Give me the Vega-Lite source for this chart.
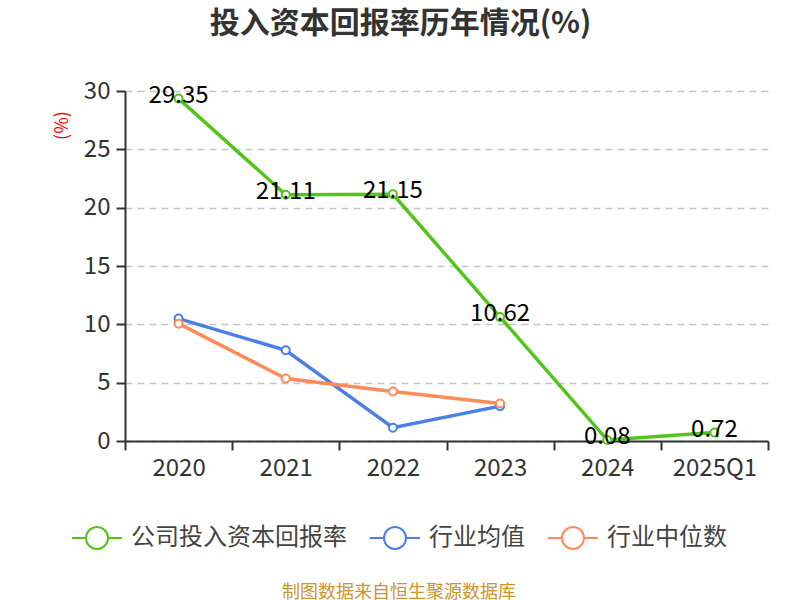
{
  "$schema": "https://vega.github.io/schema/vega-lite/v6.json",
  "autosize": {"type": "none"},
  "width": 643,
  "height": 350,
  "padding": {"left": 125, "top": 91, "right": 32, "bottom": 159},
  "background": "white",
  "title": {
    "text": "投入资本回报率历年情况(%)",
    "font": "Noto Sans CJK SC",
    "fontSize": 30,
    "fontWeight": "bold",
    "color": "#333333",
    "anchor": "middle",
    "dx": -46,
    "offset": 40
  },
  "config": {
    "view": {"stroke": null},
    "font": "Noto Sans CJK SC"
  },
  "data": {
    "values": [
      {"period": "2020", "series": "公司投入资本回报率", "value": 29.35},
      {"period": "2021", "series": "公司投入资本回报率", "value": 21.11},
      {"period": "2022", "series": "公司投入资本回报率", "value": 21.15},
      {"period": "2023", "series": "公司投入资本回报率", "value": 10.62},
      {"period": "2024", "series": "公司投入资本回报率", "value": 0.08},
      {"period": "2025Q1", "series": "公司投入资本回报率", "value": 0.72},
      {"period": "2020", "series": "行业均值", "value": 10.49},
      {"period": "2021", "series": "行业均值", "value": 7.78},
      {"period": "2022", "series": "行业均值", "value": 1.14},
      {"period": "2023", "series": "行业均值", "value": 2.99},
      {"period": "2020", "series": "行业中位数", "value": 10.06},
      {"period": "2021", "series": "行业中位数", "value": 5.36},
      {"period": "2022", "series": "行业中位数", "value": 4.25},
      {"period": "2023", "series": "行业中位数", "value": 3.22}
    ]
  },
  "encoding": {
    "x": {
      "field": "period",
      "type": "ordinal",
      "sort": ["2020", "2021", "2022", "2023", "2024", "2025Q1"],
      "scale": {"paddingInner": 0, "paddingOuter": 0},
      "axis": {
        "title": "",
        "labelAngle": 0,
        "labelFontSize": 24,
        "labelColor": "#333333",
        "labelPadding": 6,
        "domainColor": "#333333",
        "domainWidth": 2,
        "tickColor": "#333333",
        "tickWidth": 2,
        "tickSize": 9,
        "tickBand": "extent",
        "grid": false
      }
    },
    "y": {
      "field": "value",
      "type": "quantitative",
      "scale": {"domain": [0, 30], "nice": false},
      "axis": {
        "title": "(%)",
        "titleColor": "red",
        "titleFontSize": 18,
        "titleFontWeight": "normal",
        "titleAngle": -90,
        "titleX": -63,
        "titleY": 34,
        "titleAlign": "center",
        "titleBaseline": "middle",
        "values": [0, 5, 10, 15, 20, 25, 30],
        "labelFontSize": 24,
        "labelColor": "#333333",
        "labelPadding": 6,
        "domainColor": "#333333",
        "domainWidth": 2,
        "tickColor": "#333333",
        "tickWidth": 2,
        "tickSize": 9,
        "grid": true,
        "gridColor": "#c4c4c4",
        "gridDash": [7, 5],
        "gridWidth": 1.5
      }
    },
    "color": {
      "field": "series",
      "type": "nominal",
      "scale": {
        "domain": ["公司投入资本回报率", "行业均值", "行业中位数"],
        "range": ["#52c41a", "#4b7fe3", "#ff8c57"]
      },
      "legend": {
        "orient": "none",
        "direction": "horizontal",
        "legendX": -54,
        "legendY": 421,
        "title": "制图数据来自恒生聚源数据库",
        "titleOrient": "bottom",
        "titleAnchor": "middle",
        "titleFontSize": 18,
        "titleFontWeight": "normal",
        "titleColor": "#c8962a",
        "titlePadding": 31,
        "titleLimit": 600,
        "labelFontSize": 24,
        "labelColor": "#444444",
        "labelOffset": 8,
        "labelLimit": 400,
        "columnPadding": 19,
        "symbolType": "M -1 0 L -0.44 0 M 0.44 0 L 1 0 M 0.44 0 A 0.44 0.44 0 1 1 -0.44 0 A 0.44 0.44 0 1 1 0.44 0 Z",
        "symbolSize": 2500,
        "symbolStrokeWidth": 2,
        "symbolFillColor": "white"
      }
    }
  },
  "layer": [
    {
      "mark": {"type": "line", "strokeWidth": 3.5},
      "encoding": {}
    },
    {
      "mark": {"type": "point", "filled": false, "fill": "white", "fillOpacity": 1, "size": 64, "strokeWidth": 2, "opacity": 1},
      "encoding": {}
    },
    {
      "transform": [{"filter": "datum.series == '公司投入资本回报率'"}],
      "mark": {"type": "text", "fontSize": 24, "align": "center", "baseline": "middle", "dy": -3},
      "encoding": {
        "text": {"field": "value", "type": "quantitative", "format": ".2f"},
        "color": {"value": "#000000"}
      }
    }
  ]
}
